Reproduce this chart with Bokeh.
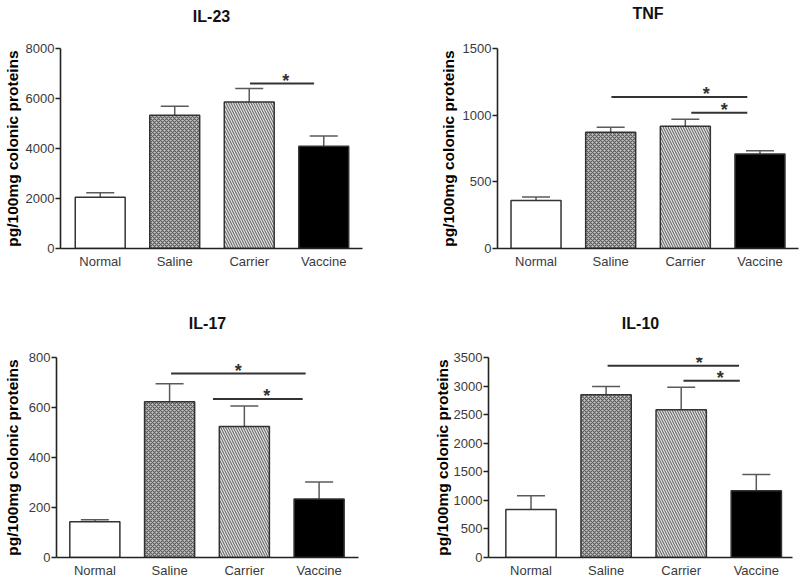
from bokeh.plotting import figure
from bokeh.models import Range1d, FixedTicker, ColumnDataSource, Whisker, TeeHead, Title
from bokeh.layouts import column, row
from bokeh.embed import file_html
from bokeh.resources import INLINE
from bokeh.core.properties import value

# ---------------- data ----------------
categories = ["Normal", "Saline", "Carrier", "Vaccine"]

il23_mean = [2050, 5330, 5860, 4090]
il23_err = [180, 360, 540, 410]
il23_ticks = [0, 2000, 4000, 6000, 8000]
il23_sig_x0 = [2.01]
il23_sig_x1 = [2.87]
il23_sig_y = [6600]
il23_star_x = [2.49]

tnf_mean = [360, 872, 917, 708]
tnf_err = [27, 37, 52, 25]
tnf_ticks = [0, 500, 1000, 1500]
tnf_sig_x0 = [1.01, 2.08]
tnf_sig_x1 = [2.83, 2.83]
tnf_sig_y = [1136, 1019]
tnf_star_x = [2.28, 2.52]

il17_mean = [143, 623, 524, 234]
il17_err = [8, 72, 82, 68]
il17_ticks = [0, 200, 400, 600, 800]
il17_sig_x0 = [1.02, 1.58]
il17_sig_x1 = [2.82, 2.78]
il17_sig_y = [736, 634]
il17_star_x = [1.92, 2.30]

il10_mean = [840, 2847, 2584, 1167]
il10_err = [240, 146, 397, 285]
il10_ticks = [0, 500, 1000, 1500, 2000, 2500, 3000, 3500]
il10_sig_x0 = [1.02, 2.03]
il10_sig_x1 = [2.77, 2.78]
il10_sig_y = [3354, 3092]
il10_star_x = [2.24, 2.52]

y_label = "pg/100mg colonic proteins"

# ---------------- styles ----------------
FONT = "Liberation Sans"
bar_fill = ["#ffffff", "#c4c4c4", "#e6e6e6", "#000000"]
bar_hatch = [" ", "x", "\\", " "]
bar_hatch_color = ["#ffffff", "#5a5a5a", "#6a6a6a", "#000000"]
bar_hatch_scale = [4, 4, 5, 4]


def panel(title, means, errs, ticks, sx0, sx1, sy, starx, xr, size, borders,
          title_gap, ylab_standoff):
    w, h = size
    left, right, top, bottom = borders
    p = figure(width=w, height=h, output_backend="svg", toolbar_location=None,
               x_range=Range1d(*xr), y_range=Range1d(0, ticks[-1]),
               min_border_left=left, min_border_right=right,
               min_border_top=top, min_border_bottom=bottom)
    p.outline_line_color = None
    p.grid.visible = False
    p.background_fill_color = "white"
    p.border_fill_color = "white"

    # blank spacer panel between the frame and the title
    p.add_layout(Title(text=" ", text_font=FONT, text_font_size="16px",
                       standoff=title_gap), "above")
    p.add_layout(Title(text=title, align="center", vertical_align="bottom", standoff=0,
                       text_font=FONT, text_font_size="16px", text_font_style="bold",
                       text_color="#111111"), "above")

    xs = list(range(len(categories)))
    src = ColumnDataSource(dict(
        x=xs, top=means,
        upper=[m + e for m, e in zip(means, errs)],
        fill=bar_fill, hatch=bar_hatch, hcol=bar_hatch_color, hscale=bar_hatch_scale))

    p.vbar(x="x", top="top", bottom=0, width=0.67, source=src,
           fill_color="fill", hatch_pattern="hatch", hatch_color="hcol",
           hatch_scale="hscale", hatch_weight=1.1,
           line_color="#333333", line_width=1.5)

    wh = Whisker(source=src, base="x", lower="top", upper="upper", dimension="height",
                 line_color="#5a5a5a", line_width=1.5,
                 upper_head=TeeHead(size=28, line_color="#5a5a5a", line_width=1.5),
                 lower_head=None)
    p.add_layout(wh)

    p.segment(x0=sx0, y0=sy, x1=sx1, y1=sy, line_color="#333333", line_width=2)
    p.text(x=starx, y=sy, text=["*"] * len(sy), text_font=value(FONT),
           text_font_style="bold", text_font_size="18px", text_align="center",
           text_baseline="alphabetic", y_offset=-3, text_color="#333333")

    # x axis
    xa = p.xaxis[0]
    xa.ticker = FixedTicker(ticks=xs)
    xa.major_label_overrides = {i: c for i, c in enumerate(categories)}
    xa.major_tick_line_color = None
    xa.major_tick_in = 0
    xa.major_tick_out = 0
    xa.minor_tick_line_color = None
    xa.axis_line_color = "#222222"
    xa.axis_line_width = 1.6
    xa.major_label_text_font = FONT
    xa.major_label_text_font_size = "13px"
    xa.major_label_text_color = "#3a3a3a"
    xa.major_label_standoff = 5

    # y axis
    ya = p.yaxis[0]
    ya.ticker = FixedTicker(ticks=ticks)
    ya.minor_tick_line_color = None
    ya.major_tick_in = 0
    ya.major_tick_out = 5
    ya.major_tick_line_color = "#222222"
    ya.major_tick_line_width = 1.5
    ya.axis_line_color = "#222222"
    ya.axis_line_width = 1.6
    ya.major_label_text_font = FONT
    ya.major_label_text_font_size = "13px"
    ya.major_label_text_color = "#3a3a3a"
    ya.major_label_standoff = 1
    ya.axis_label = y_label
    ya.axis_label_text_font = FONT
    ya.axis_label_text_font_size = "15.5px"
    ya.axis_label_text_font_style = "bold"
    ya.axis_label_text_color = "#000000"
    ya.axis_label_standoff = ylab_standoff
    return p


p1 = panel("IL-23", il23_mean, il23_err, il23_ticks, il23_sig_x0, il23_sig_x1, il23_sig_y,
           il23_star_x, (-0.533, 3.52), (400, 290), (58, 38, 48, 42), 5, 2)
p2 = panel("TNF", tnf_mean, tnf_err, tnf_ticks, tnf_sig_x0, tnf_sig_x1, tnf_sig_y,
           tnf_star_x, (-0.516, 3.516), (400, 290), (97, 2, 48, 42), 8, 3)
p3 = panel("IL-17", il17_mean, il17_err, il17_ticks, il17_sig_x0, il17_sig_x1, il17_sig_y,
           il17_star_x, (-0.513, 3.527), (400, 294), (55, 42, 67, 27), 7, 5)
p4 = panel("IL-10", il10_mean, il10_err, il10_ticks, il10_sig_x0, il10_sig_x1, il10_sig_y,
           il10_star_x, (-0.566, 3.482), (400, 294), (88, 8, 67, 27), 7, 0)

layout = column(row(p1, p2), row(p3, p4))
open("out.html", "w").write(file_html(layout, INLINE))
